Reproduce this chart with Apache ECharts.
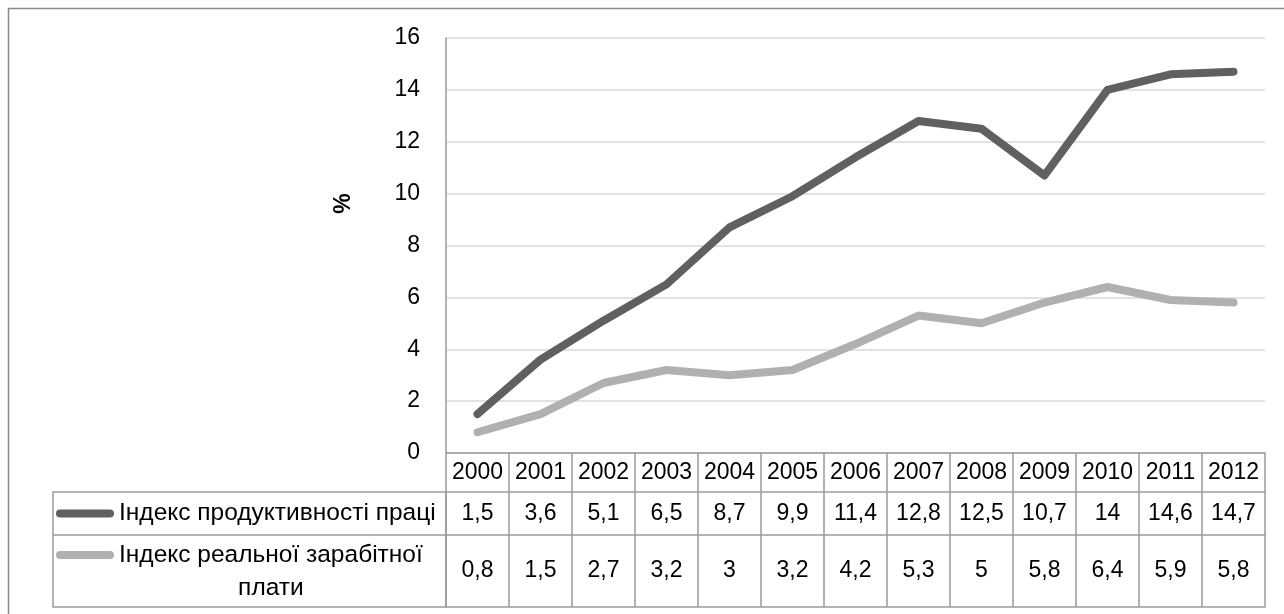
<!DOCTYPE html>
<html>
<head>
<meta charset="utf-8">
<script src="https://cdn.jsdelivr.net/npm/echarts@6/dist/echarts.min.js"></script>
<style>
  html, body { margin: 0; padding: 0; background: #fff; }
  #chart { width: 1284px; height: 614px; }
</style>
</head>
<body>
<div id="chart"></div>
<script>
const years = ['2000', '2001', '2002', '2003', '2004', '2005', '2006', '2007', '2008', '2009', '2010', '2011', '2012']
const productivity = [1.5, 3.6, 5.1, 6.5, 8.7, 9.9, 11.4, 12.8, 12.5, 10.7, 14, 14.6, 14.7]
const wages = [0.8, 1.5, 2.7, 3.2, 3, 3.2, 4.2, 5.3, 5, 5.8, 6.4, 5.9, 5.8]
const yTicks = [0, 2, 4, 6, 8, 10, 12, 14, 16]

const NAME_PROD = 'Індекс продуктивності праці'
const NAME_WAGE = 'Індекс реальної зарабітної плати'

const FONT = 'Liberation Sans'
const FS = 23          // numbers
const FS_LEG = 24.5    // legend column text
const TABLE = '#9a9a9a'
const fmt = v => String(v).replace('.', ',')

// grid box (px)
const G = { left: 446, right: 1265, top: 38, bottom: 453 }
// table rows below the x axis
const rowH = [39, 43, 72]
const LH = 33          // line height in the 2-line legend cell

// capsule icon for legend swatches
const capsule = 'path://M4,0 H54 A4,4 0 0 1 54,8 H4 A4,4 0 0 1 4,0 Z'

const tableAxis = (offset, len, labels, margin) => ({
  type: 'category',
  data: years,
  position: 'bottom',
  offset: offset,
  axisLine: { show: true, lineStyle: { color: TABLE, width: 1.5 } },
  axisTick: { show: len > 0, interval: 0, length: len, lineStyle: { color: TABLE, width: 1.5 } },
  axisLabel: {
    show: !!labels,
    interval: 0,
    margin: margin,
    verticalAlign: 'middle',
    color: '#000',
    fontFamily: FONT,
    fontSize: FS,
    formatter: (v, i) => labels ? labels[i] : ''
  }
})

const option = {
  backgroundColor: '#fff',
  animation: false,
  grid: {
    left: G.left, right: 1284 - G.right, top: G.top, bottom: 614 - G.bottom,
    containLabel: false
  },
  legend: [
    {
      data: [NAME_PROD],
      left: 56, top: 513.5 - 14,
      padding: 0,
      icon: capsule,
      itemWidth: 58, itemHeight: 8,
      textStyle: { fontFamily: FONT, fontSize: FS_LEG, lineHeight: 28, color: '#000' }
    },
    {
      data: [NAME_WAGE],
      // first text line centred on the swatch: text box = pad LH + 2 lines
      left: 56, top: 555 - 1.5 * LH,
      padding: 0,
      icon: capsule,
      itemWidth: 58, itemHeight: 8,
      formatter: () => '{a|Індекс реальної зарабітної}\n{b|плати}',
      textStyle: {
        fontFamily: FONT, fontSize: FS_LEG, color: '#000',
        lineHeight: LH, padding: [LH, 0, 0, 0],
        rich: {
          a: { fontFamily: FONT, fontSize: FS_LEG, lineHeight: LH, color: '#000' },
          b: { fontFamily: FONT, fontSize: FS_LEG, lineHeight: LH, color: '#000', align: 'center' }
        }
      }
    }
  ],
  xAxis: [
    tableAxis(0, rowH[0], years, rowH[0] / 2),
    tableAxis(rowH[0], rowH[1], productivity.map(fmt), rowH[1] / 2),
    tableAxis(rowH[0] + rowH[1], rowH[2], wages.map(fmt), rowH[2] / 2),
    tableAxis(rowH[0] + rowH[1] + rowH[2], 0, null, 0)
  ],
  yAxis: {
    type: 'value',
    min: yTicks[0],
    max: yTicks[yTicks.length - 1],
    interval: 2,
    name: '%',
    nameLocation: 'middle',
    nameRotate: 90,
    nameGap: 91,
    nameTextStyle: { fontFamily: FONT, fontSize: 23, fontWeight: 'bold', color: '#000', padding: [0, 0, 0, 84] },
    axisLine: { show: true, lineStyle: { color: TABLE, width: 1.5 } },
    axisTick: { show: false },
    splitLine: { lineStyle: { color: '#d9d9d9', width: 1.5 } },
    axisLabel: { margin: 26, color: '#000', fontFamily: FONT, fontSize: FS }
  },
  series: [
    {
      name: NAME_PROD,
      type: 'line',
      data: productivity,
      showSymbol: false,
      symbol: 'none',
      itemStyle: { color: '#606060' },
      lineStyle: { color: '#606060', width: 8, cap: 'round', join: 'round' },
      z: 3
    },
    {
      name: NAME_WAGE,
      type: 'line',
      data: wages,
      showSymbol: false,
      symbol: 'none',
      itemStyle: { color: '#b0b0b0' },
      lineStyle: { color: '#b0b0b0', width: 8, cap: 'round', join: 'round' },
      z: 2
    }
  ],
  graphic: [
    // outer chart frame
    { type: 'rect', shape: { x: 8.5, y: 8.5, width: 1300, height: 700 },
      style: { fill: null, stroke: '#8a8a8a', lineWidth: 1.5 }, silent: true },
    // legend column of the data table
    { type: 'rect',
      shape: { x: 53, y: G.bottom + rowH[0], width: G.left - 53, height: rowH[1] + rowH[2] },
      style: { fill: null, stroke: TABLE, lineWidth: 1.5 }, silent: true },
    { type: 'line',
      shape: { x1: 53, y1: G.bottom + rowH[0] + rowH[1], x2: G.left, y2: G.bottom + rowH[0] + rowH[1] },
      style: { stroke: TABLE, lineWidth: 1.5 }, silent: true }
  ]
}

const chart = echarts.init(document.getElementById('chart'), null, { renderer: 'canvas' })
chart.setOption(option)
</script>
</body>
</html>
